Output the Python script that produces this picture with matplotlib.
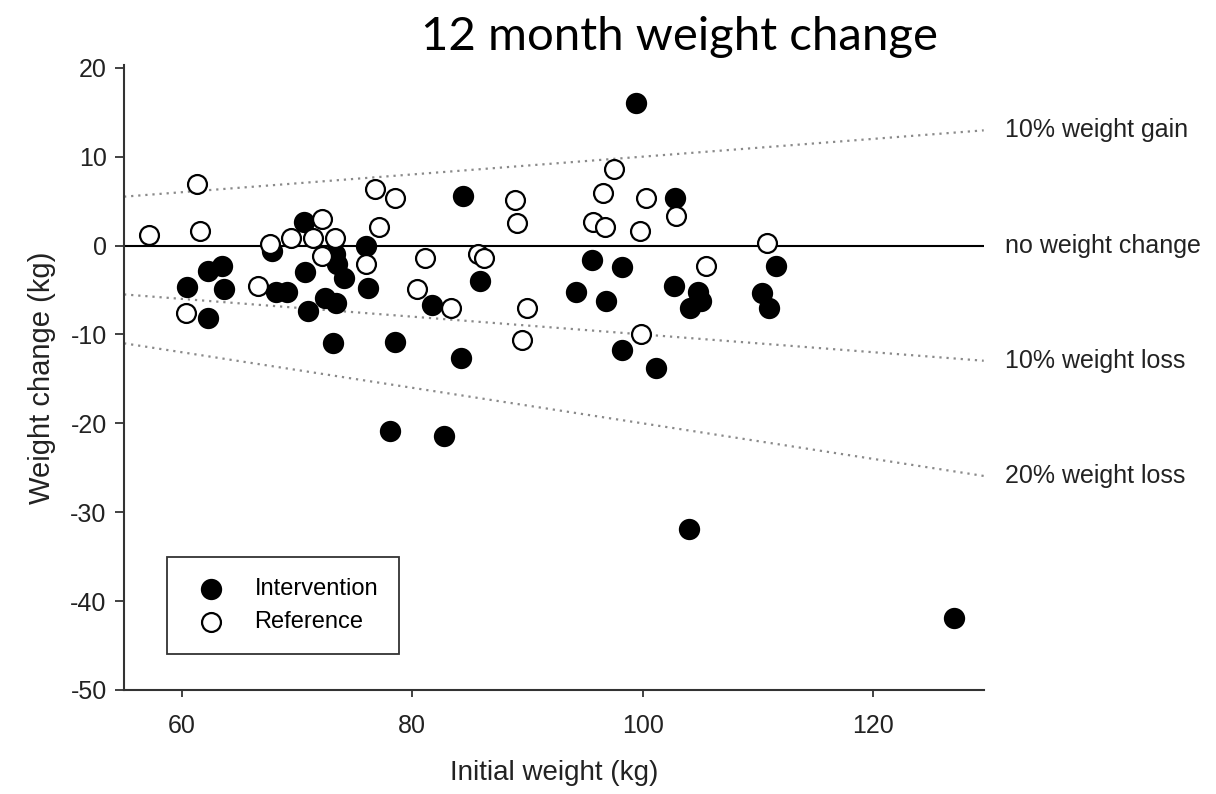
import matplotlib.pyplot as plt
import numpy as np

plt.rcParams["axes.unicode_minus"] = False

# intervention group (filled)
int_x = [60.5, 62.3, 63.5, 63.7, 62.3, 67.8, 68.2, 69.1, 70.6, 70.7, 71.0, 73.1,
         72.4, 73.4, 73.3, 73.5, 74.1, 76.0, 76.2, 78.5, 84.4, 85.9, 81.7, 84.2,
         94.2, 78.1, 82.8, 99.4, 102.8, 95.6, 98.2, 96.8, 102.7, 104.8, 105.1,
         104.1, 111.6, 110.4, 111.0, 98.2, 101.2, 104.0, 127.0]
int_y = [-4.7, -2.9, -2.3, -4.9, -8.2, -0.6, -5.2, -5.2, 2.6, -3.0, -7.4, -11.0,
         -5.9, -6.5, -0.9, -2.1, -3.6, -0.1, -4.8, -10.8, 5.6, -4.0, -6.7, -12.7,
         -5.2, -20.9, -21.4, 16.0, 5.3, -1.6, -2.4, -6.2, -4.5, -5.2, -6.2,
         -7.0, -2.3, -5.3, -7.0, -11.8, -13.8, -31.9, -41.9]

# reference group (open)
ref_x = [57.2, 61.3, 61.6, 60.4, 66.6, 67.7, 69.5, 72.2, 71.4, 73.3, 72.2, 76.8,
         78.5, 77.1, 76.0, 81.1, 80.4, 83.4, 85.7, 86.2, 88.9, 89.1, 90.0, 89.5,
         97.5, 96.6, 100.3, 95.7, 96.7, 99.8, 102.9, 110.8, 105.5, 99.9]
ref_y = [1.2, 6.9, 1.6, -7.6, -4.5, 0.2, 0.9, 3.0, 0.9, 0.9, -1.2, 6.4,
         5.3, 2.1, -2.1, -1.4, -4.9, -7.0, -0.9, -1.4, 5.1, 2.5, -7.0, -10.6,
         8.6, 5.9, 5.3, 2.7, 2.1, 1.6, 3.3, 0.3, -2.3, -10.0]

# guide lines: fraction of initial weight
slopes = [0.1, 0.0, -0.1, -0.2]
guide_labels = ["10% weight gain", "no weight change", "10% weight loss", "20% weight loss"]

XMIN, XMAX = 55, 129.6
SANS = "Liberation Sans"

fig = plt.figure(figsize=(12.16, 7.94), dpi=100)
ax = fig.add_axes([0.102, 0.131, 0.707, 0.787])

xs = np.array([XMIN, XMAX])
for s, lab in zip(slopes, guide_labels):
    if s == 0:
        ax.plot(xs, s * xs, color="black", lw=1.5, zorder=1)
    else:
        ax.plot(xs, s * xs, color="#8a8a8a", lw=1.6, ls=(0, (1, 2.2)), zorder=1)
    ax.annotate(lab, xy=(XMAX, s * XMAX), xytext=(15, 0), textcoords="offset points",
                va="center", ha="left", fontsize=18, family=SANS, color="#222222",
                annotation_clip=False)

ax.scatter(int_x, int_y, s=200, facecolor="black", edgecolor="black", lw=1.2,
           zorder=3, label="Intervention")
ax.scatter(ref_x, ref_y, s=185, facecolor="white", edgecolor="black", lw=1.6,
           zorder=4, label="Reference")

ax.set_xlim(XMIN, XMAX)
ax.set_ylim(-50, 20.3)
ax.set_xticks([60, 80, 100, 120])
ax.set_yticks([20, 10, 0, -10, -20, -30, -40, -50])

for sp in ["top", "right"]:
    ax.spines[sp].set_visible(False)
for sp in ["left", "bottom"]:
    ax.spines[sp].set_color("#333333")
    ax.spines[sp].set_linewidth(1.5)

ax.tick_params(axis="y", length=6.5, width=1.3, pad=6, colors="#333333", labelcolor="#222222")
ax.tick_params(axis="x", length=5, width=1.3, pad=12, colors="#333333", labelcolor="#222222")
for t in ax.get_xticklabels() + ax.get_yticklabels():
    t.set_fontsize(18)
    t.set_family(SANS)

ax.set_xlabel("Initial weight (kg)", fontsize=20, family=SANS, color="#222222", labelpad=16)
ax.set_ylabel("Weight change (kg)", fontsize=21, family=SANS, color="#222222", labelpad=10)

leg = ax.legend(loc="lower left", bbox_to_anchor=(0.05, 0.057), borderaxespad=0,
                fancybox=False, edgecolor="#333333", framealpha=1,
                prop={"family": SANS, "size": 17}, handletextpad=0.9,
                borderpad=0.9, labelspacing=0.45, handlelength=1.9)
leg.get_frame().set_linewidth(1.3)

fig.text(0.559, 0.937, "12 month weight change", ha="center", va="baseline",
         fontsize=34, family="Lato", color="black")

fig.savefig("out.png", dpi=100)
